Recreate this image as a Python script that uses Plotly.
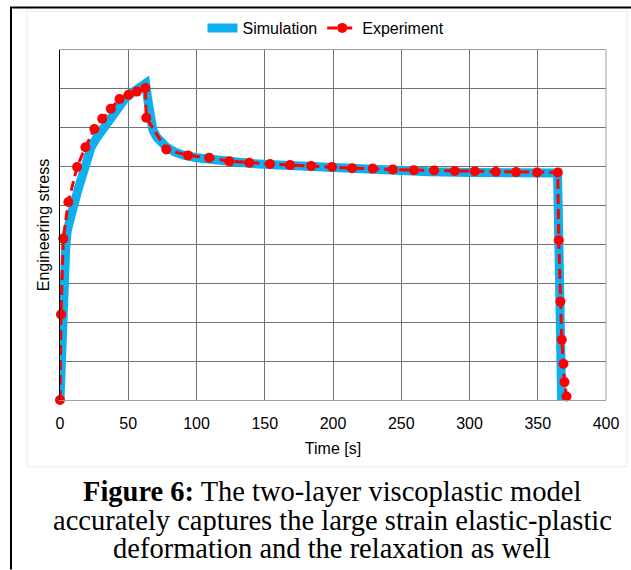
import plotly.graph_objects as go

# ---- data (stress in grid units) ----
sim_t = [0, 0.8, 1.7, 2.8, 3.5, 4.3, 5.3, 6.8, 8.4, 10, 14, 17.9, 22.8, 27, 31.8, 36.5,
         41.6, 47, 52, 57, 60.5, 62.7, 64.2, 65.7, 68, 71, 74.5, 78, 84, 90, 100, 110,
         125, 140, 160, 180, 210, 240, 270, 300, 330, 364.5, 365.5, 366.5, 367.5]
sim_y = [0, 1.0, 2.0, 3.0, 3.5, 4.0, 4.35, 4.6, 4.8, 5.0, 5.5, 6.0, 6.5, 6.75, 7.0, 7.25,
         7.5, 7.72, 7.88, 8.0, 8.08, 8.14, 7.75, 7.23, 6.95, 6.75, 6.6, 6.5, 6.38, 6.3, 6.23, 6.18,
         6.12, 6.08, 6.04, 6.0, 5.94, 5.9, 5.87, 5.85, 5.84, 5.84, 4.0, 2.0, 0]

exp_t = [0, 0.7, 2.4, 6.1, 12.5, 18.6, 25.2, 30.9, 37.2, 43.6, 50.2, 56.3, 62.5, 63.2, 77.9,
         93.8, 109.3, 124, 138.7, 153.9, 168.6, 184, 199.3, 214, 229.1, 243.8, 259.3, 274,
         289.2, 303.9, 319.3, 334.1, 349.5, 364.7, 365.4, 366.6, 367.6, 368.8, 369.6, 371.1]
exp_y = [0, 2.2, 4.15, 5.09, 5.99, 6.50, 6.97, 7.23, 7.49, 7.74, 7.85, 7.93, 8.02, 7.26, 6.44,
         6.29, 6.23, 6.14, 6.10, 6.07, 6.04, 6.02, 5.99, 5.96, 5.95, 5.93, 5.91, 5.90,
         5.89, 5.88, 5.87, 5.86, 5.85, 5.85, 4.11, 2.53, 1.55, 0.93, 0.46, 0.09]

x_ticks = [0, 50, 100, 150, 200, 250, 300, 350, 400]
caption_lines = ["<b>Figure 6:</b> The two-layer viscoplastic model",
                 "accurately captures the large strain elastic-plastic",
                 "deformation and the relaxation as well"]

W, H = 631, 570
L, R, T, B = 60, 25, 49, 170
PW, PH = W - L - R, H - T - B


def px(xp):
    return (xp - L) / PW


def py(yp):
    return (H - B - yp) / PH


CHART_FONT = "Liberation Sans, Arial, sans-serif"
SERIF = "Liberation Serif, Times New Roman, serif"
FS = 16

fig = go.Figure()
fig.add_trace(go.Scatter(x=sim_t, y=sim_y, name="Simulation", mode="lines",
                         line=dict(color="#0cb0ee", width=9), cliponaxis=False))
fig.add_trace(go.Scatter(x=exp_t, y=exp_y, name="Experiment", mode="lines+markers",
                         line=dict(color="#ff0000", width=3, dash="10px,5px"),
                         marker=dict(color="#ff0000", size=10), cliponaxis=False))

shapes = [
    # light panel
    dict(type="rect", xref="paper", yref="paper", x0=px(27), x1=px(627), y0=py(467), y1=py(10),
         line=dict(color="#ececec", width=1), layer="below"),
    # page border (left & top)
    dict(type="line", xref="paper", yref="paper", x0=px(11), x1=px(11), y0=py(570), y1=py(6),
         line=dict(color="black", width=2)),
    dict(type="line", xref="paper", yref="paper", x0=px(10), x1=px(631), y0=py(6.5), y1=py(6.5),
         line=dict(color="black", width=2)),
    # right border of plot
    dict(type="line", xref="paper", yref="paper", x0=1, x1=1, y0=0, y1=1,
         line=dict(color="#a0a0a0", width=1)),
]

annotations = []
for txt, yc in zip(caption_lines, [492, 521, 549]):
    annotations.append(dict(text=txt, xref="paper", yref="paper", x=px(332), y=py(yc),
                            xanchor="center", yanchor="middle", showarrow=False,
                            font=dict(family=SERIF, size=28.5, color="black")))

fig.update_layout(
    width=W, height=H, margin=dict(l=L, r=R, t=T, b=B),
    paper_bgcolor="white", plot_bgcolor="white",
    font=dict(family=CHART_FONT, size=FS, color="black"),
    showlegend=True,
    legend=dict(orientation="h", x=px(326), y=py(28), xanchor="center", yanchor="middle",
                font=dict(size=FS, color="black"), bgcolor="rgba(0,0,0,0)"),
    xaxis=dict(range=[0, 400], tickvals=x_ticks, ticktext=[str(v) for v in x_ticks],
               showgrid=True, gridcolor="#707070", gridwidth=1,
               showline=True, linecolor="#a0a0a0", linewidth=1, mirror=True,
               ticks="outside", ticklen=9, tickcolor="rgba(0,0,0,0)",
               tickfont=dict(size=FS, color="black"), zeroline=False,
               title=dict(text="Time [s]", font=dict(size=FS, color="black"), standoff=11)),
    yaxis=dict(range=[0, 9], dtick=1, showticklabels=False,
               showgrid=True, gridcolor="#707070", gridwidth=1,
               showline=True, linecolor="black", linewidth=1, zeroline=False,
               title=dict(text="Engineering stress", font=dict(size=FS, color="black"), standoff=5)),
    shapes=shapes, annotations=annotations,
)

fig.write_html("out.html", config={"displayModeBar": False},
               post_script="document.body.style.margin='0';")
